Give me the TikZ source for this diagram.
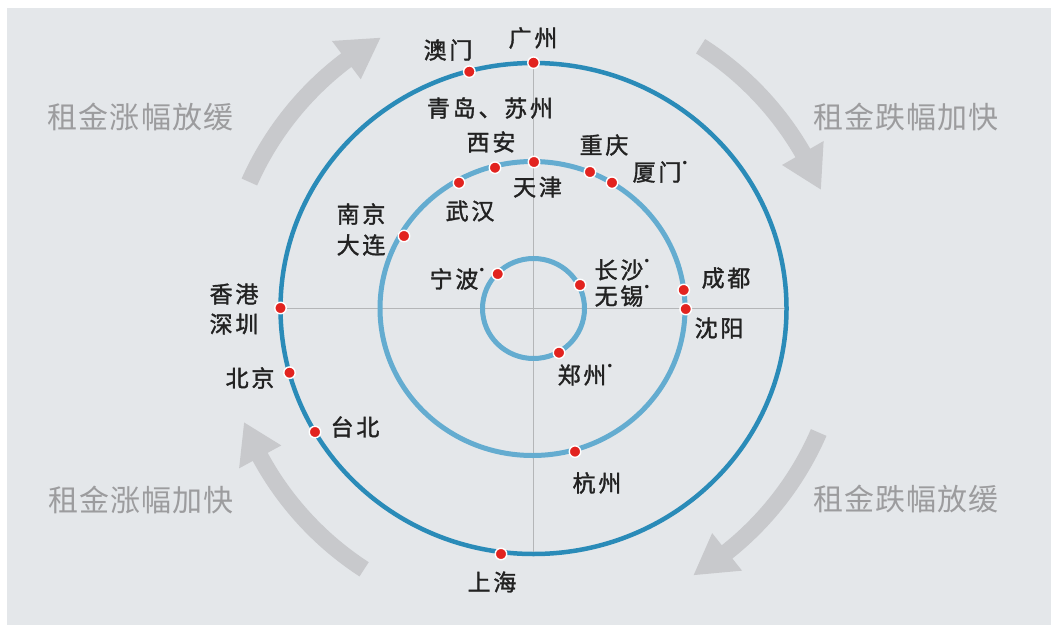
\documentclass[tikz,border=0pt]{standalone}
\usepackage{fontspec}
\newfontfamily\cjk{Noto Sans CJK SC}[LetterSpace=12,FakeBold=1.5]
\newfontfamily\cjkg{Noto Sans CJK SC}[LetterSpace=4]
\newfontfamily\dvfont{DejaVu Sans}
\definecolor{bgc}{HTML}{E4E7EA}
\definecolor{outerc}{HTML}{2A8BB8}
\definecolor{innerc}{HTML}{64ACD0}
\definecolor{crossc}{HTML}{B4B6B8}
\definecolor{arrowc}{HTML}{C8C9CC}
\definecolor{graytext}{HTML}{9C9C9E}
\definecolor{cityc}{HTML}{222222}
\definecolor{dotred}{HTML}{E2231F}
\newcommand{\mybul}{\rlap{\raisebox{13pt}{\dvfont\fontsize{12}{12}\selectfont •}}}
\begin{document}
\begin{tikzpicture}[x=1pt,y=1pt,
  city/.style={font=\cjk\fontsize{23}{23}\selectfont, text=cityc, inner sep=0pt},
  phase/.style={font=\cjkg\fontsize{30}{30}\selectfont, text=graytext, inner sep=0pt},
  dotnode/.style={circle, fill=dotred, draw=white, line width=1.4pt, minimum size=11.5pt, inner sep=0pt},
  outerring/.style={draw=outerc, line width=4.5pt},
  innerring/.style={draw=innerc, line width=5pt},
  crossline/.style={draw=crossc, line width=1pt},
  bigarrow/.style={fill=arrowc}]
\useasboundingbox (0,0) rectangle (1051,625);
\fill[white] (0,0) rectangle (1051,625);
\fill[bgc] (7,0) rectangle (1051,617);
\coordinate (C) at (533.5,316.5);
% cross lines
\coordinate (hl) at (280.5,316.5);
\coordinate (hr) at (786.5,316.5);
\coordinate (vt) at (533.5,562);
\coordinate (vb) at (533.5,71);
\draw[crossline] (hl) -- (hr);
\draw[crossline] (vt) -- (vb);
% rings
\draw[outerring] (C) ellipse [x radius=253, y radius=245.5];
\draw[innerring] (532.5,316.5) ellipse [x radius=152.5, y radius=147];
\draw[innerring] (C) ellipse [x radius=51, y radius=50];
% arrows
\begin{scope}[shift={(533.5,316.5)}]
  % top-left
  \fill[bigarrow] (156:302.5) arc[start angle=156, end angle=127, radius=302.5]
    -- (127:287) -- (119.5:311) -- (127:335) -- (127:319.5)
    arc[start angle=127, end angle=156, radius=319.5] -- cycle;
  % top-right
  \fill[bigarrow] (57.5:302.5) arc[start angle=57.5, end angle=30, radius=302.5]
    -- (30:287) -- (22.5:311) -- (30:335) -- (30:319.5)
    arc[start angle=30, end angle=57.5, radius=319.5] -- cycle;
  % bottom-right
  \fill[bigarrow] (-23.5:302.5) arc[start angle=-23.5, end angle=-51.5, radius=302.5]
    -- (-51.5:287) -- (-59:311) -- (-51.5:335) -- (-51.5:319.5)
    arc[start angle=-51.5, end angle=-23.5, radius=319.5] -- cycle;
  % bottom-left
  \fill[bigarrow] (-123:302.5) arc[start angle=-123, end angle=-151.5, radius=302.5]
    -- (-151.5:287) -- (-158.5:311) -- (-151.5:335) -- (-151.5:319.5)
    arc[start angle=-151.5, end angle=-123, radius=319.5] -- cycle;
\end{scope}
% phase labels
\node[phase] (ptl) at (140.5,508) {租金涨幅放缓};
\node[phase] (ptr) at (906,508) {租金跌幅加快};
\node[phase] (pbl) at (141,125) {租金涨幅加快};
\node[phase] (pbr) at (906,126) {租金跌幅放缓};
% dots
\node[dotnode] (dgz) at (533.5,562.3) {};
\node[dotnode] (dam) at (469.3,553.3) {};
\node[dotnode] (dxa) at (495,457.3) {};
\node[dotnode] (dtj) at (534,463) {};
\node[dotnode] (dwh) at (459,442.3) {};
\node[dotnode] (dcq) at (590,453) {};
\node[dotnode] (dxm) at (612,442.3) {};
\node[dotnode] (dnb) at (497.7,351) {};
\node[dotnode] (dcs) at (580,340) {};
\node[dotnode] (dcd) at (683.7,335) {};
\node[dotnode] (dsy) at (685.7,316) {};
\node[dotnode] (dzz) at (559,272.3) {};
\node[dotnode] (dnj) at (404,389) {};
\node[dotnode] (dhk) at (280.5,317) {};
\node[dotnode] (dbj) at (289.5,252.3) {};
\node[dotnode] (dtb) at (315,193) {};
\node[dotnode] (dhz) at (575,173.4) {};
\node[dotnode] (dsh) at (501,71) {};
% city labels
\node[city] (lgz) at (533,587) {广州};
\node[city] (lam) at (448,575) {澳门};
\node[city] (lqd) at (490,517) {青岛、苏州};
\node[city] (lxa) at (491,483) {西安};
\node[city] (ltj) at (537.5,438) {天津};
\node[city] (lwh) at (470,414) {武汉};
\node[city] (lcq) at (604,480) {重庆};
\node[city] (lxm) at (657,453) {厦门\mybul};
\node[city] (lnb) at (454,346) {宁波\mybul};
\node[city] (lcs) at (619,355) {长沙\mybul};
\node[city] (lwx) at (619,329) {无锡\mybul};
\node[city] (lcd) at (726,347) {成都};
\node[city] (lsy) at (719,297) {沈阳};
\node[city] (lzz) at (582,250) {郑州\mybul};
\node[city] (lnj) at (361,411) {南京};
\node[city] (ldl) at (361,380) {大连};
\node[city] (lhk) at (234,331) {香港};
\node[city] (lsz) at (234,301) {深圳};
\node[city] (lbj) at (250,247) {北京};
\node[city] (ltb) at (355,198) {台北};
\node[city] (lhz) at (597,142) {杭州};
\node[city] (lsh) at (492,43) {上海};
\end{tikzpicture}
\end{document}
